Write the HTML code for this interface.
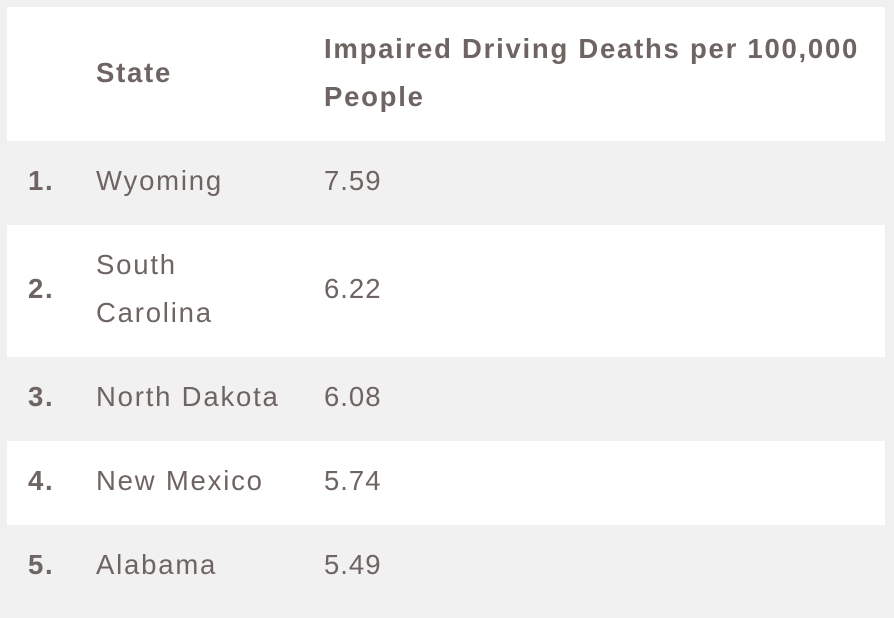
<!DOCTYPE html>
<html><head><style>
html,body{margin:0;padding:0;background:#f0f0f0;width:894px;height:618px;overflow:hidden}
.t{position:absolute;left:7px;top:7px;width:878px;height:604px;background:#fff}
.r{position:absolute;left:0;width:878px}
.g{background:#f1f1f1}
.c{position:absolute;font-family:"Liberation Sans",sans-serif;color:#6e6462;font-size:27.5px;line-height:48px;letter-spacing:1.8px;white-space:nowrap}
.v{letter-spacing:1px}
.b{font-weight:bold;letter-spacing:1.75px}
</style></head><body>
<div class="t">
<div class="r" style="top:0;height:134px"></div>
<div class="c b" style="left:89px;top:42px">State</div>
<div class="c b" style="left:317px;top:18px;width:560px">Impaired Driving Deaths per 100,000<br>People</div>
<div class="r g" style="top:134px;height:84px"></div>
<div class="c b" style="left:21px;top:150px">1.</div>
<div class="c" style="left:89px;top:150px">Wyoming</div>
<div class="c v" style="left:317px;top:150px">7.59</div>
<div class="c b" style="left:21px;top:258px">2.</div>
<div class="c" style="left:89px;top:234px">South<br>Carolina</div>
<div class="c v" style="left:317px;top:258px">6.22</div>
<div class="r g" style="top:350px;height:84px"></div>
<div class="c b" style="left:21px;top:366px">3.</div>
<div class="c" style="left:89px;top:366px">North Dakota</div>
<div class="c v" style="left:317px;top:366px">6.08</div>
<div class="c b" style="left:21px;top:450px">4.</div>
<div class="c" style="left:89px;top:450px">New Mexico</div>
<div class="c v" style="left:317px;top:450px">5.74</div>
<div class="r g" style="top:518px;height:86px"></div>
<div class="c b" style="left:21px;top:534px">5.</div>
<div class="c" style="left:89px;top:534px">Alabama</div>
<div class="c v" style="left:317px;top:534px">5.49</div>
</div>
</body></html>
